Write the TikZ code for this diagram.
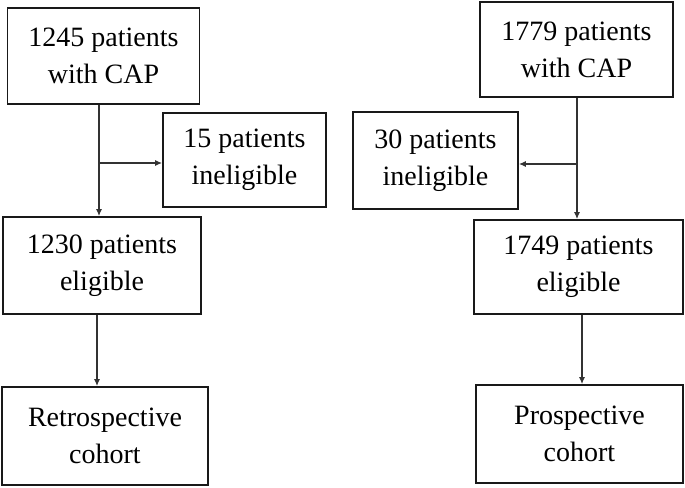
\documentclass[tikz,border=0pt]{standalone}
\usepackage{fontspec}
\setmainfont{Liberation Serif}
\usetikzlibrary{arrows.meta}
\tikzset{
  flowbox/.style={draw=black!90, line width=1.7pt, rectangle, align=center, inner sep=0pt,
    font=\fontsize{28}{37}\selectfont},
  flowarrow/.style={draw=black!80, line width=1.3pt, -{Latex[length=7pt,width=6pt]}}
}
\begin{document}
\begin{tikzpicture}[x=1pt,y=-1pt]
\useasboundingbox (0,0) rectangle (685,487);

\node (allL) at (103.5, 56) [flowbox, minimum width=192pt, minimum height=96pt] {1245 patients\\with CAP};
\node (exclL) at (244.5, 160) [flowbox, minimum width=163pt, minimum height=94pt] {15 patients\\ineligible};
\node (eligL) at (102, 265.5) [flowbox, minimum width=198pt, minimum height=97pt] {1230 patients\\eligible};
\node (retro) at (105, 436) [flowbox, minimum width=206pt, minimum height=98pt] {Retrospective\\cohort};

\node (allR) at (576.5, 49.5) [flowbox, minimum width=193pt, minimum height=95pt] {1779 patients\\with CAP};
\node (exclR) at (435.5, 160.5) [flowbox, minimum width=165pt, minimum height=97pt] {30 patients\\ineligible};
\node (eligR) at (578.5, 267) [flowbox, minimum width=209pt, minimum height=94pt] {1749 patients\\eligible};
\node (prosp) at (579.5, 434) [flowbox, minimum width=207pt, minimum height=98pt] {Prospective\\cohort};

\coordinate (splitL) at (99, 163);
\coordinate (splitR) at (577, 164);
\coordinate (downL) at (97, 0);
\coordinate (downR) at (582, 0);

\draw[flowarrow] (allL.south -| splitL) -- (eligL.north -| splitL);
\draw[flowarrow] (splitL) -- (exclL.west |- splitL);
\draw[flowarrow] (eligL.south -| downL) -- (retro.north -| downL);

\draw[flowarrow] (allR.south -| splitR) -- (eligR.north -| splitR);
\draw[flowarrow] (splitR) -- (exclR.east |- splitR);
\draw[flowarrow] (eligR.south -| downR) -- (prosp.north -| downR);

\end{tikzpicture}
\end{document}
